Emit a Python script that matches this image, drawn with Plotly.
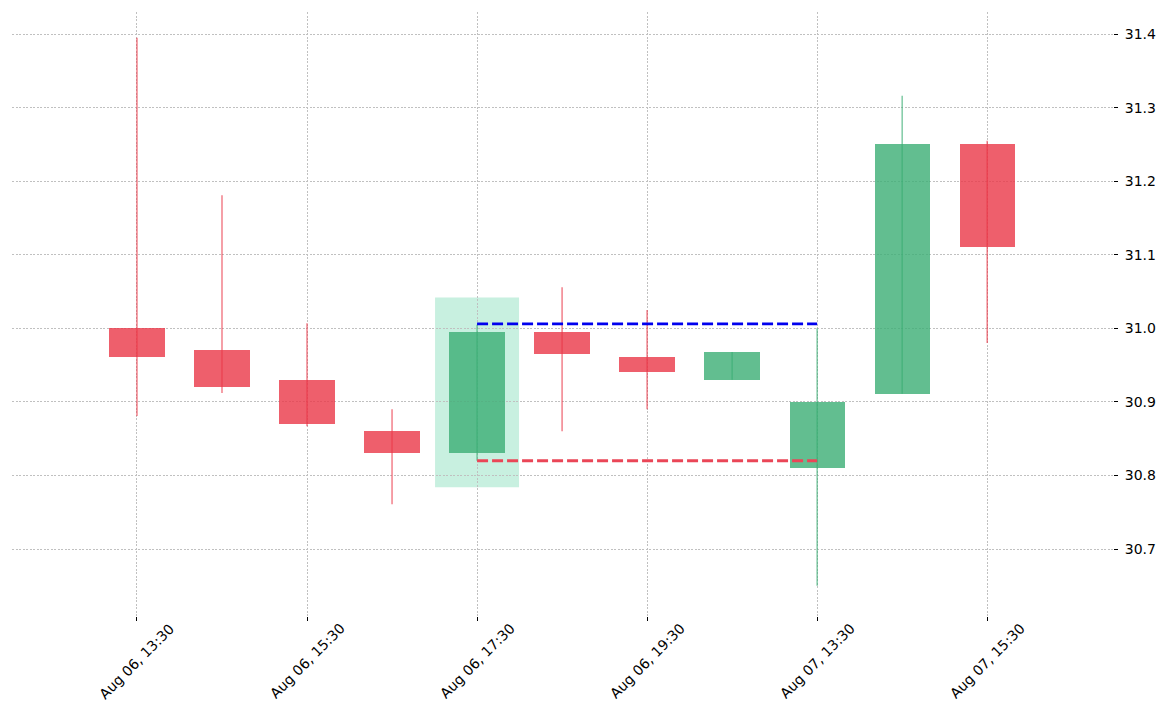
import plotly.graph_objects as go

labels = ['Aug 06, 13:30', 'Aug 06, 14:30', 'Aug 06, 15:30', 'Aug 06, 16:30',
          'Aug 06, 17:30', 'Aug 06, 18:30', 'Aug 06, 19:30', 'Aug 06, 20:30',
          'Aug 07, 13:30', 'Aug 07, 14:30', 'Aug 07, 15:30']
opens = [31.000, 30.970, 30.930, 30.860, 30.830, 30.995, 30.961, 30.930, 30.810, 30.911, 31.250]
highs = [31.395, 31.181, 31.007, 30.890, 31.005, 31.056, 31.025, 30.968, 31.000, 31.316, 31.255]
lows = [30.881, 30.912, 30.867, 30.761, 30.820, 30.860, 30.890, 30.930, 30.650, 30.911, 30.980]
closes = [30.961, 30.920, 30.870, 30.830, 30.995, 30.965, 30.941, 30.968, 30.900, 31.250, 31.110]

# pattern marker: highlighted candle and the two levels drawn from it
pattern_idx = 4
level_end = 8
resistance = 31.006
support = 30.820
box_lo, box_hi = 30.784, 31.042

up_col = 'rgba(59,174,116,0.8)'
down_col = 'rgba(234,55,71,0.8)'

xs = list(range(len(labels)))
cols = [up_col if c >= o else down_col for o, c in zip(opens, closes)]

fig = go.Figure()

# wicks
for col in (up_col, down_col):
    wx, wy = [], []
    for i in xs:
        if cols[i] != col:
            continue
        wx += [i, i, None]
        wy += [lows[i], highs[i], None]
    fig.add_trace(go.Scatter(x=wx, y=wy, mode='lines',
                             line=dict(color=col, width=1.2),
                             showlegend=False, hoverinfo='skip'))

# bodies
fig.add_trace(go.Bar(
    x=xs,
    y=[abs(c - o) for o, c in zip(opens, closes)],
    base=[min(o, c) for o, c in zip(opens, closes)],
    width=0.65,
    marker=dict(color=cols, line=dict(width=0)),
    showlegend=False,
    hoverinfo='skip'
))

fig.add_trace(go.Scatter(x=[pattern_idx, level_end], y=[resistance, resistance], mode='lines',
                         line=dict(color='#0000ee', width=2.8, dash='11px,4px'),
                         showlegend=False, hoverinfo='skip'))
fig.add_trace(go.Scatter(x=[pattern_idx, level_end], y=[support, support], mode='lines',
                         line=dict(color='#ea4657', width=2.8, dash='11px,4px'),
                         showlegend=False, hoverinfo='skip'))

fig.add_shape(type='rect', xref='x', yref='y',
              x0=pattern_idx - 0.494, x1=pattern_idx + 0.494, y0=box_lo, y1=box_hi,
              fillcolor='#c8f0e0', line=dict(width=0), layer='below')

# rotated tick labels centred under the ticks
for i in xs[::2]:
    fig.add_annotation(x=i, y=0, xref='x', yref='paper', text=labels[i],
                       textangle=-45, showarrow=False, xanchor='center', yanchor='middle',
                       yshift=-45, font=dict(family='DejaVu Sans', size=14, color='black'))

ytick_vals = [30.7, 30.8, 30.9, 31.0, 31.1, 31.2, 31.3, 31.4]

# the page body has an 8px margin, so the figure is made 8px smaller
fig.update_layout(
    width=1163, height=704,
    margin=dict(l=4, r=58, t=4, b=96),
    plot_bgcolor='white',
    paper_bgcolor='white',
    bargap=0,
    font=dict(family='DejaVu Sans', size=14, color='black'),
    xaxis=dict(
        range=[-1.47, 11.48],
        tickvals=xs[::2],
        showticklabels=False,
        ticks='outside', ticklen=4, tickcolor='black', tickwidth=1,
        showgrid=True, gridcolor='#c0c0c0', gridwidth=0.8, griddash='2px,1.5px',
        zeroline=False, showline=False
    ),
    yaxis=dict(
        side='right',
        range=[30.609, 31.430],
        tickvals=ytick_vals,
        ticktext=[f'{v:.1f}' for v in ytick_vals],
        ticks='outside', ticklen=4, tickcolor='black', tickwidth=1,
        ticklabelstandoff=4,
        showgrid=True, gridcolor='#c0c0c0', gridwidth=0.8, griddash='2px,1.5px',
        zeroline=False, showline=False
    )
)

fig.write_html('out.html')
